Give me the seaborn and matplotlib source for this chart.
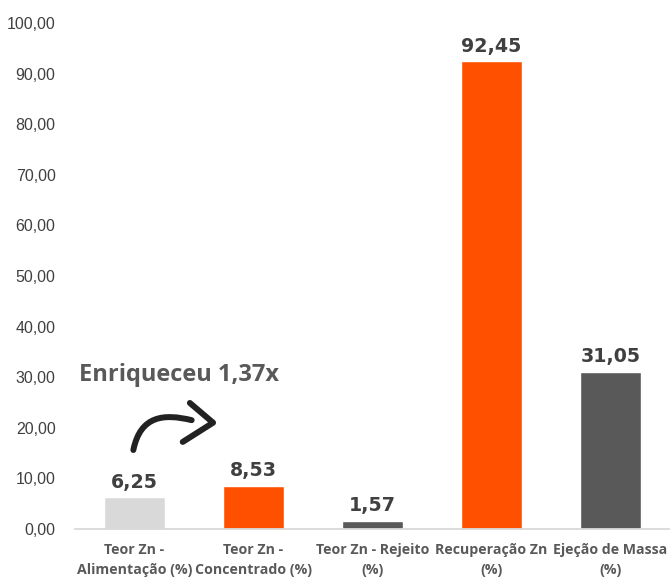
import matplotlib
matplotlib.use("Agg")
import matplotlib.pyplot as plt
from matplotlib.path import Path
from matplotlib.patches import PathPatch
import seaborn as sns
import pandas as pd

categories = [
    "Teor Zn -\nAlimentação (%)",
    "Teor Zn -\nConcentrado (%)",
    "Teor Zn - Rejeito\n(%)",
    "Recuperação Zn\n(%)",
    "Ejeção de Massa\n(%)",
]
values = [6.25, 8.53, 1.57, 92.45, 31.05]
bar_colors = ["#D9D9D9", "#FF5000", "#595959", "#FF5000", "#595959"]
y_ticks = [0, 10, 20, 30, 40, 50, 60, 70, 80, 90, 100]
note_text = "Enriqueceu 1,37x"

sns.set_theme(style="white")
plt.rcParams["font.family"] = ["Liberation Sans", "DejaVu Sans"]

df = pd.DataFrame({"categoria": categories, "valor": values})

fig = plt.figure(figsize=(6.7, 5.8), dpi=100)
ax = fig.add_axes([0.112, 0.088, 0.888, 0.8725])

sns.barplot(data=df, x="categoria", y="valor", hue="categoria",
            palette=bar_colors, width=0.51, legend=False, ax=ax,
            saturation=1)

ax.set_xlim(-0.5, 4.5)
ax.set_ylim(0, 100)
ax.set_yticks(y_ticks)
ax.set_yticklabels([f"{t:.2f}".replace(".", ",") for t in y_ticks],
                   fontsize=11.5, color="#404040")
ax.tick_params(axis="y", length=0, pad=14)
ax.tick_params(axis="x", length=0, pad=10)
for lbl in ax.get_xticklabels():
    lbl.set_fontfamily(["Open Sans", "DejaVu Sans"])
    lbl.set_fontweight("bold")
    lbl.set_fontsize(10.2)
    lbl.set_color("#595959")
    lbl.set_linespacing(1.6)
ax.set_xlabel("")
ax.set_ylabel("")

for side in ["top", "right", "left"]:
    ax.spines[side].set_visible(False)
ax.spines["bottom"].set_color("#D9D9D9")
ax.spines["bottom"].set_linewidth(1.3)

for container in ax.containers:
    labels = [f"{v:.2f}".replace(".", ",") for v in container.datavalues]
    ax.bar_label(container, labels=labels, padding=4,
                 fontsize=13.7, fontweight="bold", color="#404040",
                 fontfamily="DejaVu Sans")

# annotation: enrichment from feed to concentrate
ax.text(-0.47, 30.4, note_text, fontsize=17, fontweight="bold",
        color="#595959", va="center", ha="left",
        fontfamily=["Open Sans", "DejaVu Sans"])

curve = Path([(-0.01, 15.6), (0.05, 22.5), (0.25, 22.8), (0.48, 21.5)],
             [Path.MOVETO, Path.CURVE4, Path.CURVE4, Path.CURVE4])
ax.add_patch(PathPatch(curve, fill=False, lw=4.3, color="#222222",
                       capstyle="round", joinstyle="round"))
head = Path([(0.465, 24.9), (0.66, 21.0), (0.405, 17.2)],
            [Path.MOVETO, Path.LINETO, Path.LINETO])
ax.add_patch(PathPatch(head, fill=False, lw=4.3, color="#222222",
                       capstyle="round", joinstyle="round"))

fig.savefig("out.png", dpi=100)
